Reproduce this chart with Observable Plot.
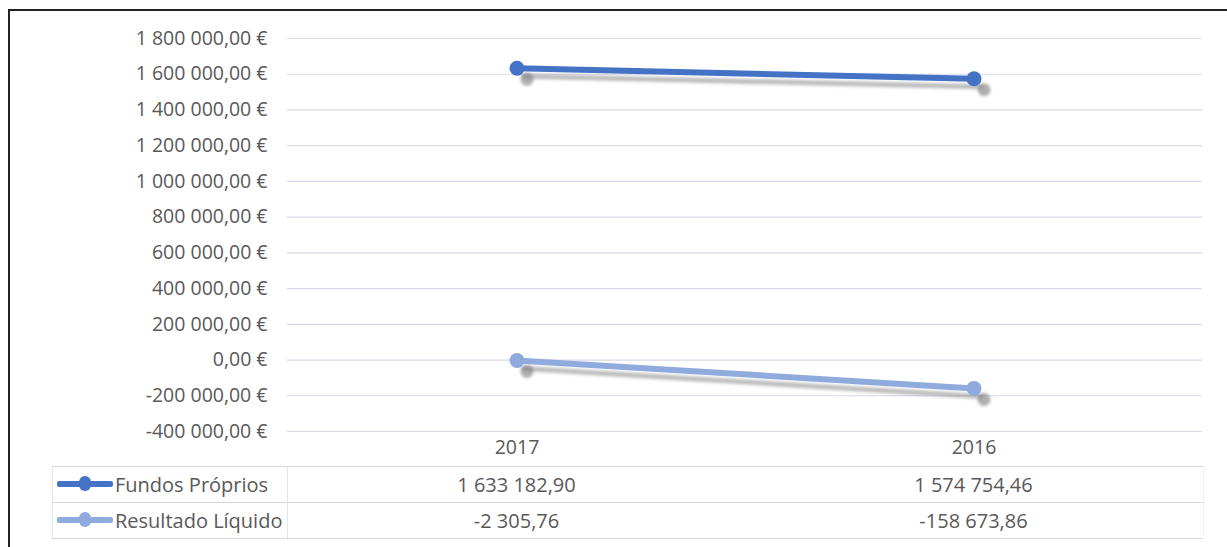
<!DOCTYPE html>
<html>
<head>
<meta charset="utf-8">
<script src="https://cdn.jsdelivr.net/npm/d3@7"></script>
<script src="https://cdn.jsdelivr.net/npm/@observablehq/plot@0.6"></script>
<style>
  html, body { margin: 0; padding: 0; background: #fff; }
  #wrap { position: relative; width: 1227px; height: 547px; overflow: hidden; font-family: "Open Sans", sans-serif; color: #595959; }
  #frame { position: absolute; left: 8px; top: 9px; width: 1230px; height: 560px; border-top: 2px solid #222; border-left: 2px solid #222; box-sizing: border-box; }
  #chart { position: absolute; left: 0; top: 0; }
  .hline { position: absolute; height: 1px; background: #d6d6d6; }
  .vline { position: absolute; width: 1px; background: #e4e4e4; }
  .cell { position: absolute; font-size: 20px; line-height: 36px; height: 36px; white-space: nowrap; }
  .key { position: absolute; height: 6px; border-radius: 2px; }
  .keydot { position: absolute; width: 12px; height: 15px; border-radius: 6px; }
</style>
</head>
<body>
<div id="wrap">
  <div id="frame"></div>
  <div id="chart"></div>
</div>
<script>
const years = ["2017", "2016"];
const seriesNames = ["Fundos Próprios", "Resultado Líquido"];
const fundosProprios = [1633182.90, 1574754.46];
const resultadoLiquido = [-2305.76, -158673.86];
const yTicks = [-400000, -200000, 0, 200000, 400000, 600000, 800000, 1000000, 1200000, 1400000, 1600000, 1800000];
const colors = ["#4472C4", "#8FAADC"];

const locale = d3.formatLocale({decimal: ",", thousands: " ", grouping: [3], currency: ["", ""], minus: "-"});
const fmtNum = locale.format(",.2f");
const fmtEur = v => fmtNum(v) + " €";

const data = [];
years.forEach((yr, i) => {
  data.push({year: yr, series: seriesNames[0], value: fundosProprios[i]});
  data.push({year: yr, series: seriesNames[1], value: resultadoLiquido[i]});
});

const W = 1227, H = 470;
const chart = Plot.plot({
  width: W, height: H,
  marginLeft: 287, marginRight: 25, marginTop: 38, marginBottom: 39,
  style: {fontFamily: "Open Sans, sans-serif", fontSize: "19.5px", color: "#595959", background: "transparent", overflow: "visible"},
  x: {type: "band", domain: years, padding: 0, label: null, tickSize: 0, tickPadding: 9},
  y: {domain: [-400000, 1800000], ticks: yTicks, tickFormat: fmtEur, label: null, tickSize: 0, tickPadding: 20},
  color: {domain: seriesNames, range: colors},
  marks: [
    Plot.ruleY(yTicks, {stroke: "#d8d8ea", strokeWidth: 1.2}),
    Plot.line(data, {x: "year", y: "value", z: "series", stroke: "#7a7a7a", strokeWidth: 5, dx: 7, dy: 8, strokeOpacity: 0.5}),
    Plot.dot(data, {x: "year", y: "value", fill: "#7a7a7a", r: 6.5, dx: 10, dy: 11, fillOpacity: 0.6}),
    Plot.line(data, {x: "year", y: "value", z: "series", stroke: "series", strokeWidth: 6}),
    Plot.dot(data, {x: "year", y: "value", fill: "series", r: 7.5})
  ]
});
const svg = d3.select(chart);
svg.insert("defs", ":first-child").html('<filter id="blur" filterUnits="userSpaceOnUse" x="0" y="0" width="1227" height="470"><feGaussianBlur stdDeviation="1.8"/></filter>');
svg.selectAll('g[aria-label="line"]').filter((d, i) => i === 0).attr("filter", "url(#blur)");
svg.selectAll('g[aria-label="dot"]').filter((d, i) => i === 0).attr("filter", "url(#blur)");
svg.selectAll('g[aria-label="y-axis tick label"] text, g[aria-label="x-axis tick label"] text').attr("fill", "#595959");
document.getElementById("chart").appendChild(chart);

// data table below the chart
const wrap = document.getElementById("wrap");
const x = chart.scale("x");
const bw = x.bandwidth;
function add(cls, styles, text) {
  const d = document.createElement("div");
  d.className = cls;
  Object.assign(d.style, styles);
  if (text != null) d.textContent = text;
  wrap.appendChild(d);
  return d;
}
const rowTops = [466, 502];
[466, 502, 538].forEach(t => add("hline", {left: "52px", top: t + "px", width: "1151px"}));
[52, 287].forEach(l => add("vline", {left: l + "px", top: "466px", height: "72px"}));
add("vline", {left: "1203px", top: "466px", height: "72px", background: "#f0f0f0"});
const rows = [fundosProprios, resultadoLiquido];
seriesNames.forEach((name, r) => {
  const top = rowTops[r];
  add("key", {left: "57px", top: (top + 15) + "px", width: "56px", background: colors[r]});
  add("keydot", {left: "79px", top: (top + 10) + "px", background: colors[r]});
  add("cell", {left: "115px", top: (top + 1) + "px"}, name);
  years.forEach((yr, i) => {
    const cx = x.apply(yr) + bw / 2;
    add("cell", {left: (cx - 150) + "px", width: "300px", textAlign: "center", top: (top + 1) + "px"}, fmtNum(rows[r][i]));
  });
});
</script>
</body>
</html>
